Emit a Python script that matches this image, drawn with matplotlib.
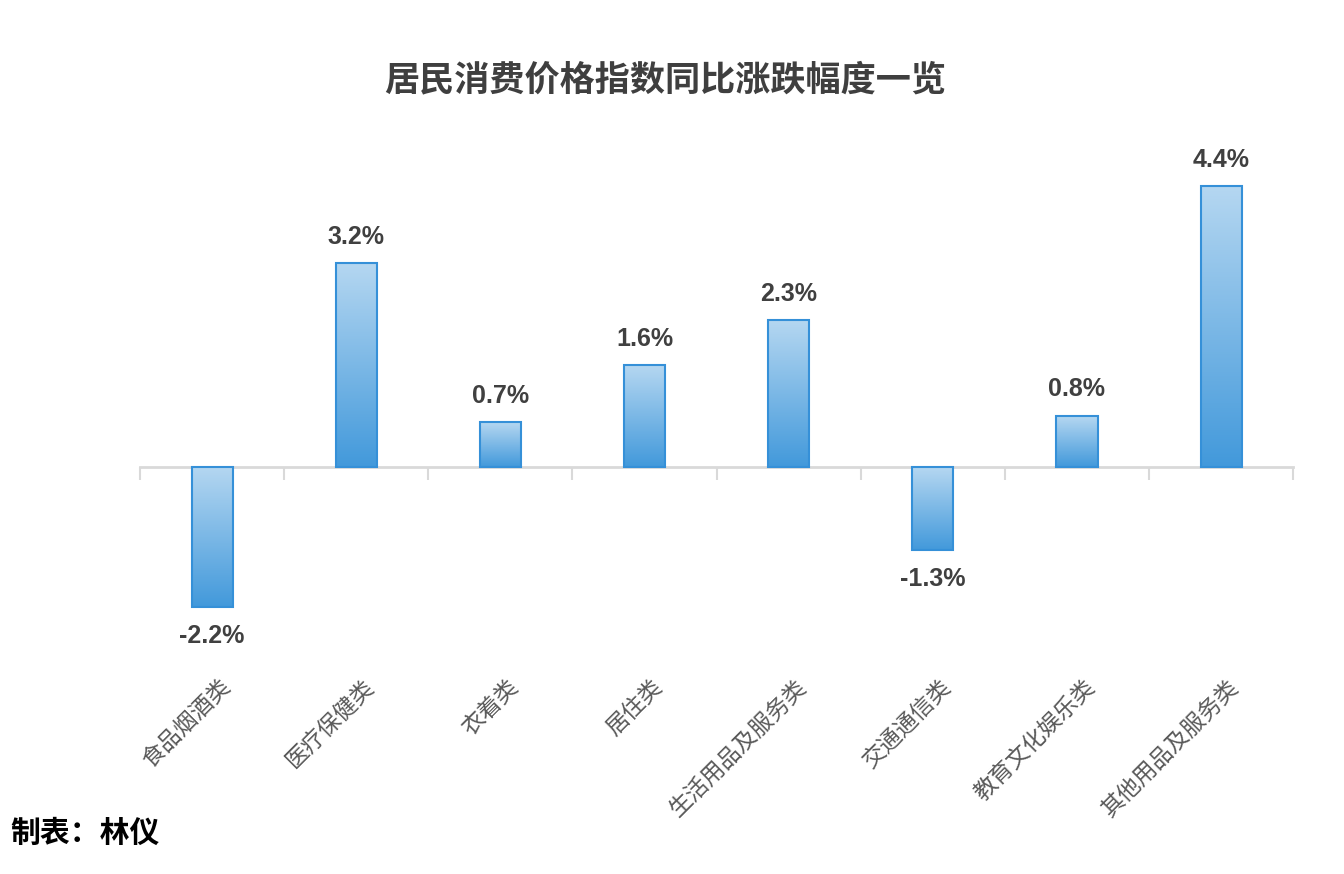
import matplotlib
matplotlib.use("Agg")
import matplotlib.pyplot as plt
import numpy as np
from matplotlib.colors import LinearSegmentedColormap
from matplotlib.transforms import blended_transform_factory

plt.rcParams['font.family'] = ['Noto Sans CJK SC', 'DejaVu Sans']

# data
categories = ['食品烟酒类', '医疗保健类', '衣着类', '居住类',
              '生活用品及服务类', '交通通信类', '教育文化娱乐类', '其他用品及服务类']
values = [-2.2, 3.2, 0.7, 1.6, 2.3, -1.3, 0.8, 4.4]
value_labels = ['-2.2%', '3.2%', '0.7%', '1.6%', '2.3%', '-1.3%', '0.8%', '4.4%']

fig = plt.figure(figsize=(13.44, 8.74), dpi=100)
ax = fig.add_axes([0.1042, 0.2449, 0.858, 0.595])

x = np.arange(len(categories))
bars = ax.bar(x, values, width=0.285, color='none', edgecolor='#3590d8', linewidth=1.5, zorder=3)

# gradient fill, light on top, darker at bottom
cmap = LinearSegmentedColormap.from_list('bluegrad', ['#4299db', '#b5d7f1'])
grad = np.linspace(0, 1, 256).reshape(-1, 1)
for bar in bars:
    x0 = bar.get_x()
    w = bar.get_width()
    y0 = min(bar.get_y(), bar.get_y() + bar.get_height())
    y1 = max(bar.get_y(), bar.get_y() + bar.get_height())
    im = ax.imshow(grad, cmap=cmap, aspect='auto', origin='lower',
                   extent=(x0, x0 + w, y0, y1), zorder=2)
    im.set_clip_path(bar)

ax.set_xlim(-0.5, len(categories) - 0.5)
ax.set_ylim(-3.03, 5.13)

# zero axis line
for s in ['top', 'right', 'left']:
    ax.spines[s].set_visible(False)
ax.spines['bottom'].set_position(('data', 0))
ax.spines['bottom'].set_color('#d9d9d9')
ax.spines['bottom'].set_linewidth(2)
ax.spines['bottom'].set_zorder(1)
ax.set_yticks([])
ax.set_xticks(np.arange(-0.5, len(categories), 1.0))
ax.set_xticklabels([])
ax.tick_params(axis='x', length=9, width=1.5, color='#d9d9d9', direction='out')

# value labels
for xi, v, lab in zip(x, values, value_labels):
    off = 19 if v >= 0 else -21
    ax.annotate(lab, (xi, v), xytext=(0, off), textcoords='offset points',
                ha='center', va='center', fontsize=18, fontweight='bold',
                color='#404040', family=['Liberation Sans', 'DejaVu Sans'])

# category labels
trans = blended_transform_factory(ax.transData, ax.transAxes)
for xi, cat in zip(x, categories):
    ax.text(xi + 0.1, -0.045, cat, transform=trans, rotation=45,
            rotation_mode='anchor', ha='right', va='center',
            fontsize=16.5, color='#595959')

fig.text(0.495, 0.9085, '居民消费价格指数同比涨跌幅度一览', ha='center', va='center',
         fontsize=25.3, fontweight='bold', color='#3f3f3f')
fig.text(0.008, 0.047, '制表：林仪', ha='left', va='center',
         fontsize=21.5, fontweight='bold', color='black')

fig.savefig('out.png', dpi=100)
